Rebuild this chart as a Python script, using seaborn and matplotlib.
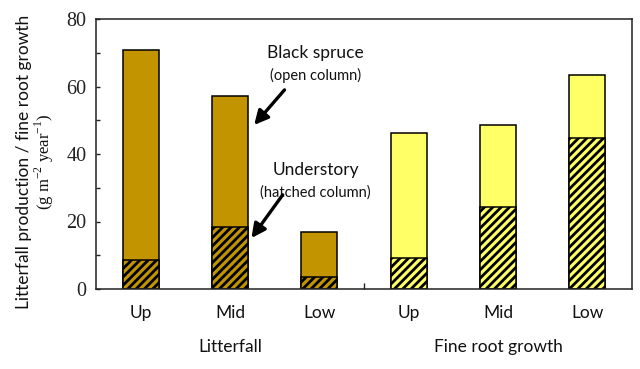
import matplotlib
matplotlib.use("Agg")
import matplotlib.pyplot as plt
import seaborn as sns
import pandas as pd
from matplotlib.ticker import MultipleLocator

# ---- data ----
groups = ["Litterfall", "Litterfall", "Litterfall", "Fine root growth", "Fine root growth", "Fine root growth"]
sites = ["Up", "Mid", "Low", "Up", "Mid", "Low"]
total = [70.8, 57.3, 17.0, 46.3, 48.5, 63.5]        # black spruce + understory (open column top)
understory = [8.5, 18.5, 3.5, 9.3, 24.3, 44.8]     # hatched column
group_labels = ["Litterfall", "Fine root growth"]
yticks = [0, 20, 40, 60, 80]

gold = "#C29400"
yellow = "#FFFF66"

sns.set_theme(style="white")
plt.rcParams["hatch.linewidth"] = 2.0
plt.rcParams["hatch.color"] = "black"

df = pd.DataFrame({
    "key": [f"{g}-{s}" for g, s in zip(groups, sites)],
    "group": groups,
    "site": sites,
    "total": total,
    "understory": understory,
})

fig = plt.figure(figsize=(6.4, 3.69), dpi=100)
ax = fig.add_axes([96 / 640, 1 - 289 / 369, (632 - 96) / 640, (289 - 19) / 369])

sns.barplot(data=df, x="key", y="total", hue="group", palette=[gold, yellow],
            dodge=False, width=0.4, edgecolor="black", linewidth=1.1, ax=ax,
            legend=False, saturation=1)
n_before = len(ax.patches)
sns.barplot(data=df, x="key", y="understory", hue="group", palette=[gold, yellow],
            dodge=False, width=0.4, edgecolor="black", linewidth=1.1, ax=ax,
            legend=False, saturation=1)
for p in ax.patches[n_before:]:
    p.set_hatch("////")

ax.set_xlim(-0.5, 5.5)
ax.set_ylim(0, 80)
ax.set_xlabel("")
ax.set_ylabel("")

for sp in ax.spines.values():
    sp.set_visible(True)
    sp.set_color("#222222")
    sp.set_linewidth(1.1)

ax.set_xticks([2.5])
ax.set_xticklabels([""])
ax.tick_params(axis="x", direction="in", length=4, width=1, color="#222222", bottom=True)
ax.set_yticks(yticks)
ax.yaxis.set_minor_locator(MultipleLocator(10))
ax.tick_params(axis="y", which="both", direction="in", length=3, width=1, color="#222222", left=True, pad=7)
for lab in ax.get_yticklabels():
    lab.set_fontfamily("Liberation Serif")
    lab.set_fontsize(14.5)
    lab.set_color("#222222")

# site labels under bars
for i, s in enumerate(sites):
    ax.text(i, -7.2, s, ha="center", va="center", fontsize=12.5, family="Lato", color="#111111")
# group labels
ax.text(1, -17.3, group_labels[0], ha="center", va="center", fontsize=12.5, family="Lato", color="#111111")
ax.text(4, -17.3, group_labels[1], ha="center", va="center", fontsize=12.5, family="Lato", color="#111111")

# y-axis labels
fig.text(24 / 640, 1 - 162 / 369, "Litterfall production / fine root growth", rotation=90,
         ha="center", va="center", fontsize=12.5, family="Lato", color="#111111")
fig.text(44 / 640, 1 - 162 / 369, r"(g m$^{\mathregular{-2}}$ year$^{\mathregular{-1}}$)", rotation=90,
         ha="center", va="center", fontsize=12, family="Liberation Serif", color="#111111")

# annotations
ax.text(1.96, 70, "Black spruce", ha="center", va="center", fontsize=12.5, family="Lato", color="#111111")
ax.text(1.96, 63.4, "(open column)", ha="center", va="center", fontsize=10.5, family="Lato", color="#111111")
ax.text(1.96, 35.3, "Understory", ha="center", va="center", fontsize=12.5, family="Lato", color="#111111")
ax.text(1.96, 28.7, "(hatched column)", ha="center", va="center", fontsize=10.5, family="Lato", color="#111111")
arrow = dict(arrowstyle="-|>,head_length=0.7,head_width=0.35", color="black", lw=2.4, shrinkA=0, shrinkB=0)
ax.annotate("", xy=(1.27, 48.6), xytext=(1.61, 59), arrowprops=arrow)
ax.annotate("", xy=(1.24, 15.1), xytext=(1.59, 27.9), arrowprops=arrow)

fig.savefig("out.png", dpi=100)
